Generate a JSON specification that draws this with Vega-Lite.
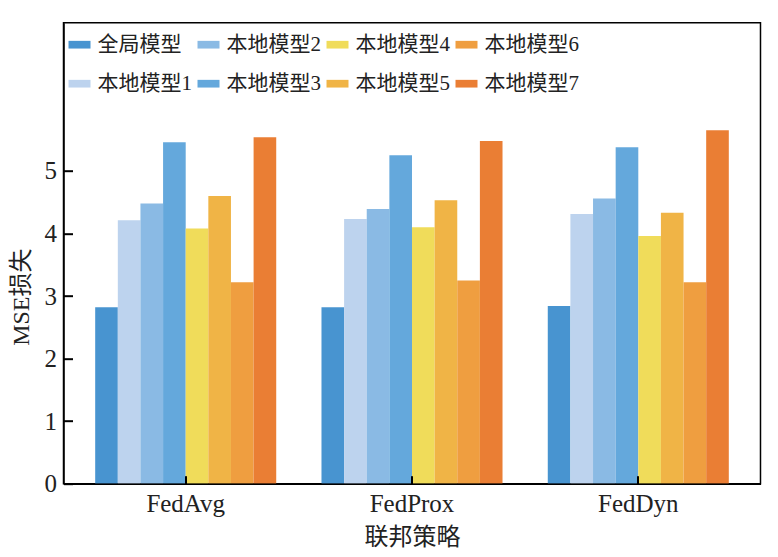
{
  "$schema": "https://vega.github.io/schema/vega-lite/v6.json",
  "autosize": {"type": "none"},
  "padding": {"left": 63.5, "top": 22.7, "right": 17.5, "bottom": 73},
  "width": 697,
  "height": 461,
  "background": "white",
  "config": {
    "font": "Liberation Serif, Noto Sans CJK SC",
    "view": {"stroke": "#000", "strokeWidth": 1.5}
  },
  "data": {
    "values": [
      {"strategy": "FedAvg", "model": "全局模型", "mse": 2.82},
      {"strategy": "FedAvg", "model": "本地模型1", "mse": 4.21},
      {"strategy": "FedAvg", "model": "本地模型2", "mse": 4.48},
      {"strategy": "FedAvg", "model": "本地模型3", "mse": 5.46},
      {"strategy": "FedAvg", "model": "本地模型4", "mse": 4.08},
      {"strategy": "FedAvg", "model": "本地模型5", "mse": 4.60},
      {"strategy": "FedAvg", "model": "本地模型6", "mse": 3.22},
      {"strategy": "FedAvg", "model": "本地模型7", "mse": 5.54},
      {"strategy": "FedProx", "model": "全局模型", "mse": 2.82},
      {"strategy": "FedProx", "model": "本地模型1", "mse": 4.23},
      {"strategy": "FedProx", "model": "本地模型2", "mse": 4.39},
      {"strategy": "FedProx", "model": "本地模型3", "mse": 5.25},
      {"strategy": "FedProx", "model": "本地模型4", "mse": 4.10},
      {"strategy": "FedProx", "model": "本地模型5", "mse": 4.53},
      {"strategy": "FedProx", "model": "本地模型6", "mse": 3.25},
      {"strategy": "FedProx", "model": "本地模型7", "mse": 5.48},
      {"strategy": "FedDyn", "model": "全局模型", "mse": 2.84},
      {"strategy": "FedDyn", "model": "本地模型1", "mse": 4.31},
      {"strategy": "FedDyn", "model": "本地模型2", "mse": 4.56},
      {"strategy": "FedDyn", "model": "本地模型3", "mse": 5.38},
      {"strategy": "FedDyn", "model": "本地模型4", "mse": 3.96},
      {"strategy": "FedDyn", "model": "本地模型5", "mse": 4.33},
      {"strategy": "FedDyn", "model": "本地模型6", "mse": 3.22},
      {"strategy": "FedDyn", "model": "本地模型7", "mse": 5.65}
    ]
  },
  "mark": {"type": "bar"},
  "encoding": {
    "x": {
      "field": "strategy",
      "type": "nominal",
      "sort": ["FedAvg", "FedProx", "FedDyn"],
      "scale": {"paddingInner": 0.2, "paddingOuter": 0.14},
      "axis": {
        "title": "联邦策略",
        "zindex": 1,
        "labelAngle": 0,
        "labelFontSize": 25,
        "labelColor": "#222",
        "labelPadding": 16,
        "titleFontSize": 24,
        "titleFontWeight": "normal",
        "titleColor": "#222",
        "titlePadding": 9,
        "domainColor": "#000",
        "domainWidth": 1.5,
        "tickColor": "#000",
        "tickWidth": 2,
        "tickSize": -8
      }
    },
    "xOffset": {
      "field": "model",
      "type": "nominal",
      "sort": ["全局模型", "本地模型1", "本地模型2", "本地模型3", "本地模型4", "本地模型5", "本地模型6", "本地模型7"],
      "scale": {"paddingInner": 0, "paddingOuter": 0}
    },
    "y": {
      "field": "mse",
      "type": "quantitative",
      "scale": {"domain": [0, 7.37], "nice": false},
      "axis": {
        "title": "MSE损失",
        "zindex": 1,
        "values": [0, 1, 2, 3, 4, 5],
        "grid": false,
        "labelFontSize": 25,
        "labelColor": "#222",
        "labelPadding": 16,
        "titleFontSize": 24,
        "titleFontWeight": "normal",
        "titleColor": "#222",
        "titleAnchor": "middle",
        "titleX": -30,
        "titleY": 274,
        "domainColor": "#000",
        "domainWidth": 1.5,
        "tickColor": "#000",
        "tickWidth": 2,
        "tickSize": -9
      }
    },
    "color": {
      "field": "model",
      "type": "nominal",
      "scale": {
        "domain": ["全局模型", "本地模型1", "本地模型2", "本地模型3", "本地模型4", "本地模型5", "本地模型6", "本地模型7"],
        "range": ["#4894d0", "#bdd3ee", "#8abae4", "#64a8dc", "#f0dc5a", "#f0b446", "#ef9e40", "#ea7e34"]
      },
      "sort": ["全局模型", "本地模型2", "本地模型4", "本地模型6", "本地模型1", "本地模型3", "本地模型5", "本地模型7"],
      "legend": {
        "title": null,
        "orient": "none",
        "legendX": 5,
        "legendY": 11,
        "columns": 4,
        "columnPadding": 5,
        "rowPadding": 18,
        "labelFontSize": 21,
        "labelColor": "#222",
        "labelOffset": 7,
        "symbolType": "M-1,-0.35L1,-0.35L1,0.35L-1,0.35Z",
        "symbolSize": 484,
        "symbolStrokeWidth": 0,
        "symbolOpacity": 1
      }
    }
  }
}
